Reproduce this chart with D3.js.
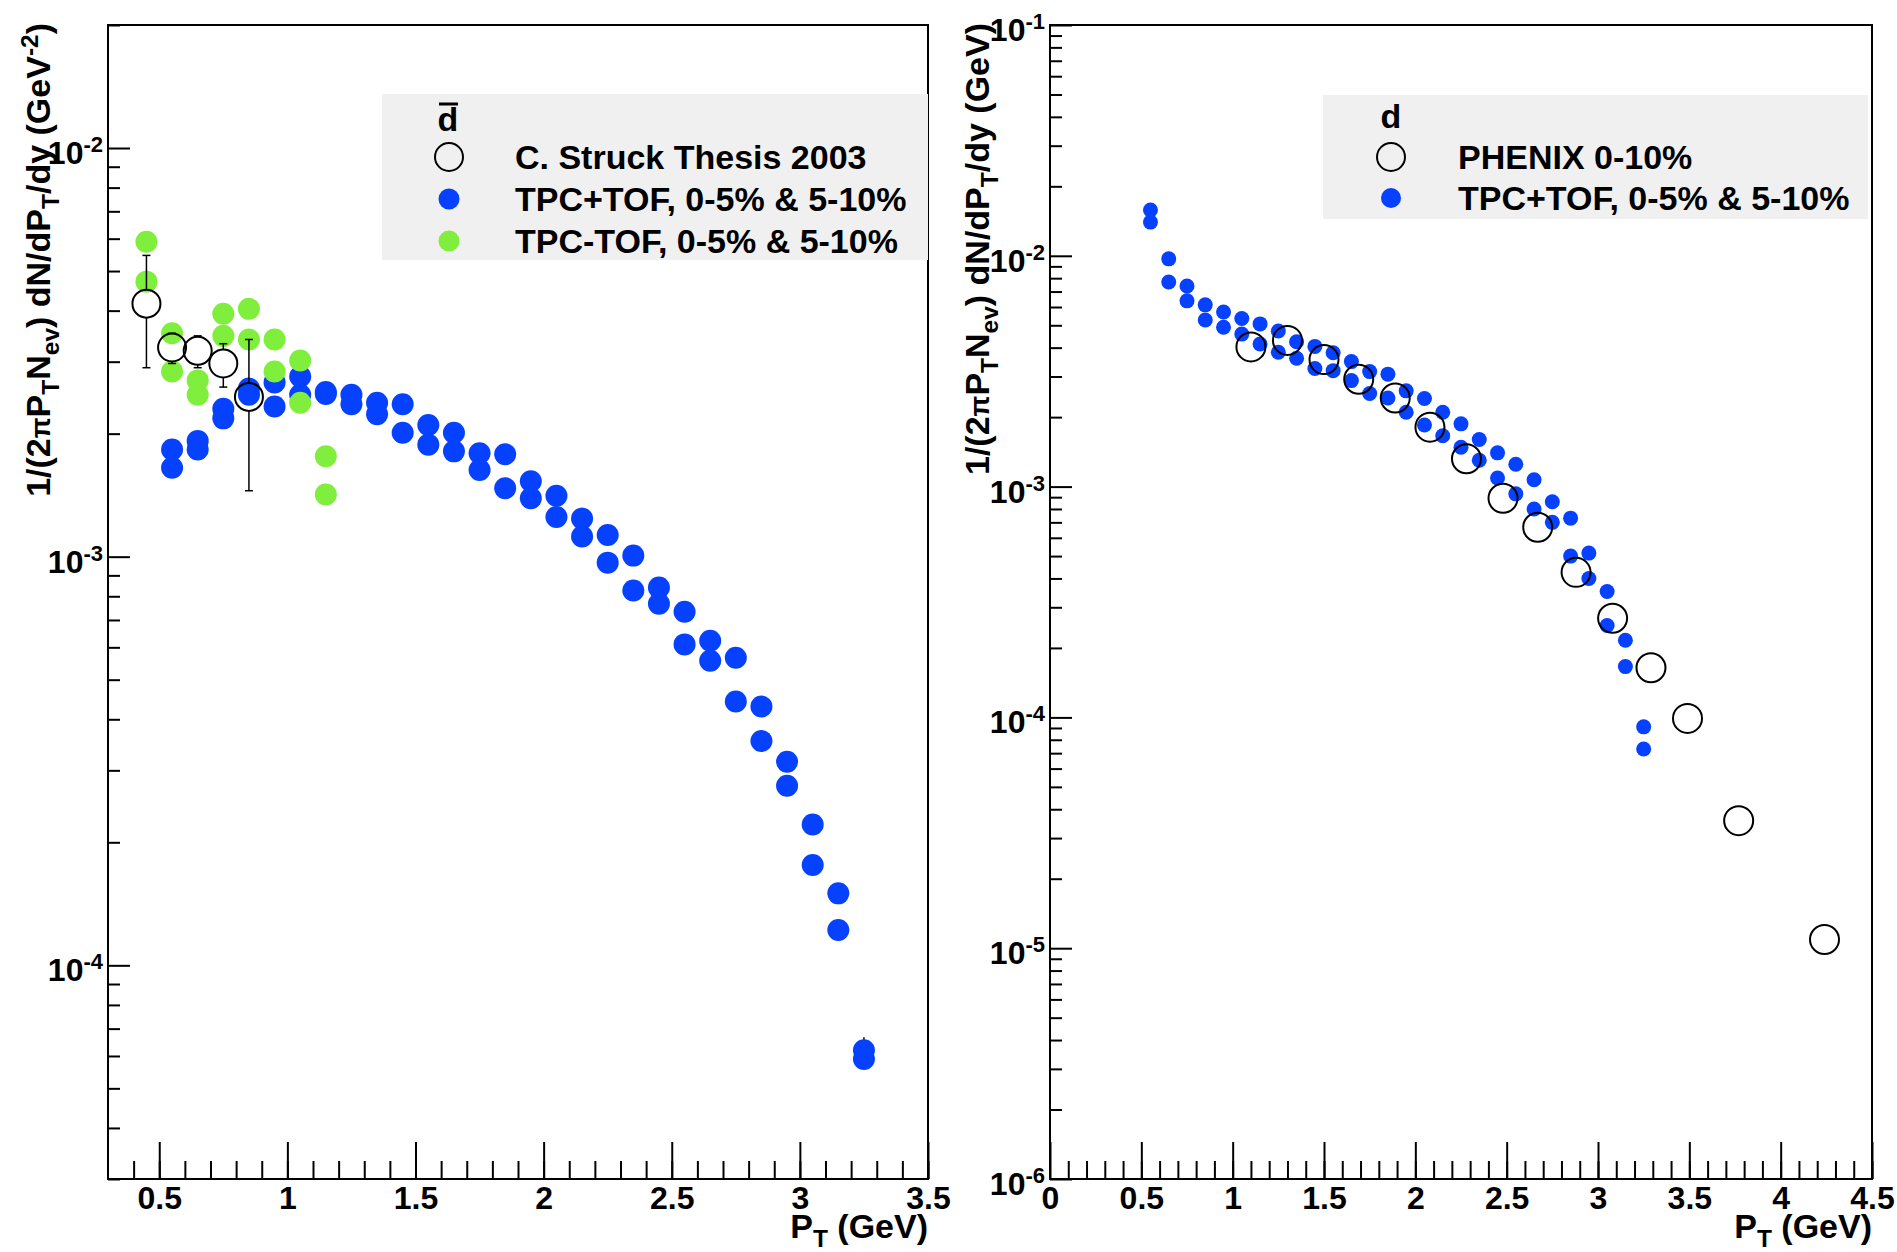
<!DOCTYPE html>
<html><head><meta charset="utf-8">
<script src="https://cdn.jsdelivr.net/npm/d3@7"></script>
<style>
body{margin:0;background:#fff}
svg{display:block}
text{font-family:"Liberation Sans",Arial,Helvetica,sans-serif;font-weight:bold;fill:#000}
</style>
</head><body>
<svg id="c" width="1897" height="1252"></svg>
<script>
// ---------------- DATA ----------------
// pT bin centres (GeV) used by the TPC+TOF points in both panels
const ptBins = [0.55,0.65,0.75,0.85,0.95,1.05,1.15,1.25,1.35,1.45,1.55,1.65,1.75,1.85,1.95,2.05,2.15,2.25,2.35,2.45,2.55,2.65,2.75,2.85,2.95,3.05,3.15,3.25];

// Left panel (anti-deuteron) TPC+TOF, two centralities
const dbarTpcTofA = [1.83e-3,1.92e-3,2.30e-3,2.58e-3,2.67e-3,2.76e-3,2.53e-3,2.49e-3,2.38e-3,2.36e-3,2.10e-3,2.01e-3,1.79e-3,1.78e-3,1.53e-3,1.41e-3,1.24e-3,1.13e-3,1.006e-3,0.84e-3,0.733e-3,0.623e-3,0.566e-3,0.430e-3,0.315e-3,0.221e-3,0.150e-3,0.062e-3];
const dbarTpcTofB = [1.65e-3,1.83e-3,2.18e-3,2.49e-3,2.33e-3,2.49e-3,2.50e-3,2.36e-3,2.23e-3,2.01e-3,1.88e-3,1.81e-3,1.63e-3,1.47e-3,1.39e-3,1.25e-3,1.12e-3,0.967e-3,0.826e-3,0.767e-3,0.61e-3,0.556e-3,0.442e-3,0.354e-3,0.275e-3,0.176e-3,0.122e-3,0.059e-3];
// error bar on the last TPC+TOF point (pT = 3.25)
const dbarLastErr = [5.64e-5, 6.67e-5];

// Left panel TPC-TOF
const dbarTpcPt = [0.45,0.55,0.65,0.75,0.85,0.95,1.05,1.15];
const dbarTpcA = [5.9e-3,3.52e-3,2.70e-3,3.93e-3,4.04e-3,3.40e-3,3.02e-3,1.76e-3];
const dbarTpcB = [4.71e-3,2.84e-3,2.49e-3,3.47e-3,3.40e-3,2.84e-3,2.38e-3,1.42e-3];

// Left panel C. Struck Thesis 2003
const struckPt = [0.45,0.55,0.65,0.75,0.85];
const struckY = [4.16e-3,3.25e-3,3.19e-3,2.97e-3,2.46e-3];
const struckLo = [2.9e-3,2.97e-3,2.9e-3,2.6e-3,1.45e-3];
const struckHi = [5.46e-3,3.52e-3,3.47e-3,3.32e-3,3.40e-3];

// Right panel (deuteron) TPC+TOF, two centralities
const dTpcTofA = [1.58e-2,0.97e-2,0.74e-2,0.613e-2,0.571e-2,0.535e-2,0.507e-2,0.472e-2,0.424e-2,0.405e-2,0.38e-2,0.348e-2,0.315e-2,0.307e-2,0.26e-2,0.241e-2,0.21e-2,0.187e-2,0.16e-2,0.14e-2,0.125e-2,0.107e-2,0.086e-2,0.073e-2,0.0515e-2,0.0351e-2,0.0216e-2,0.0091e-2];
const dTpcTofB = [1.40e-2,0.77e-2,0.638e-2,0.527e-2,0.49e-2,0.458e-2,0.415e-2,0.382e-2,0.36e-2,0.325e-2,0.318e-2,0.288e-2,0.253e-2,0.242e-2,0.21e-2,0.185e-2,0.166e-2,0.148e-2,0.13e-2,0.109e-2,0.093e-2,0.08e-2,0.07e-2,0.05e-2,0.04e-2,0.025e-2,0.0166e-2,0.0073e-2];

// Right panel PHENIX 0-10%
const phenixPt = [1.10,1.30,1.50,1.69,1.89,2.08,2.28,2.48,2.67,2.88,3.08,3.29,3.49,3.77,4.24];
const phenixY = [4.03e-3,4.3e-3,3.55e-3,2.92e-3,2.42e-3,1.81e-3,1.32e-3,0.89e-3,0.667e-3,0.425e-3,0.269e-3,1.64e-4,0.99e-4,3.57e-5,1.09e-5];

// Tick labels
const leftXTicks = [0.5,1,1.5,2,2.5,3,3.5];
const rightXTicks = [0,0.5,1,1.5,2,2.5,3,3.5,4,4.5];
const leftYExps = [-2,-3,-4];
const rightYExps = [-1,-2,-3,-4,-5,-6];

// Legend texts
const leftLegend = ["C. Struck Thesis 2003","TPC+TOF, 0-5% & 5-10%","TPC-TOF, 0-5% & 5-10%"];
const rightLegend = ["PHENIX 0-10%","TPC+TOF, 0-5% & 5-10%"];

// ---------------- DRAW ----------------
const BLUE = "#0541ff", GREEN = "#80ee3c";
const svg = d3.select("#c");

function richText(sel, parts, base){
  // parts: [text, kind] kind: n | sub | sup | pi
  let off = 0;
  parts.forEach(([t,k])=>{
    let target = 0, fs = base;
    if(k==="sub"){target = base*0.26; fs = base*0.72;}
    if(k==="sup"){target = -base*0.36; fs = base*0.72;}
    if(k==="pi"){fs = base*0.8;}
    sel.append("tspan").attr("dy", target-off).attr("font-size", fs).text(t);
    off = target;
  });
}

function panel(c){
  const x = d3.scaleLinear().domain(c.xDomain).range([c.left, c.right]);
  const y = d3.scaleLog().domain(c.yDomain).range([c.bottom, c.top]);
  const g = svg.append("g");

  // x minor ticks
  const xMinor = d3.range(Math.ceil(c.xDomain[0]*10+1e-9), Math.floor(c.xDomain[1]*10+1e-9)+1).map(i=>i/10);
  const gxm = g.append("g").attr("transform",`translate(0,${c.bottom})`)
    .call(d3.axisBottom(x).tickValues(xMinor).tickSize(-18).tickFormat(""));
  gxm.select(".domain").remove();
  gxm.selectAll("line").attr("stroke","#000").attr("stroke-width",2);
  const gx = g.append("g").attr("transform",`translate(0,${c.bottom})`)
    .call(d3.axisBottom(x).tickValues(c.xTicks).tickSize(-37).tickPadding(7).tickFormat(d3.format("")));
  gx.select(".domain").remove();
  gx.attr("font-size",null).attr("font-family",null);
  gx.selectAll("line").attr("stroke","#000").attr("stroke-width",2);
  gx.selectAll("text").attr("font-size",32).attr("fill","#000");

  // y ticks
  const yAll = y.ticks();
  const isMajor = v => Math.abs(Math.log10(v)-Math.round(Math.log10(v)))<1e-6;
  const gym = g.append("g").attr("transform",`translate(${c.left},0)`)
    .call(d3.axisLeft(y).tickValues(yAll.filter(v=>!isMajor(v))).tickSize(-12).tickFormat(""));
  gym.select(".domain").remove();
  gym.selectAll("line").attr("stroke","#000").attr("stroke-width",2);
  const majors = c.yExps.map(e=>Math.pow(10,e));
  const gy = g.append("g").attr("transform",`translate(${c.left},0)`)
    .call(d3.axisLeft(y).tickValues(majors).tickSize(-22).tickFormat(""));
  gy.select(".domain").remove();
  gy.selectAll("line").attr("stroke","#000").attr("stroke-width",2);
  c.yExps.forEach(e=>{
    const t = g.append("text").attr("x", c.left-5).attr("y", y(Math.pow(10,e))+16)
      .attr("text-anchor","end").attr("font-size",32);
    t.append("tspan").text("10");
    t.append("tspan").attr("dy",-12).attr("font-size",22).text(String(e));
  });

  // frame
  g.append("rect").attr("x",c.left).attr("y",c.top).attr("width",c.right-c.left).attr("height",c.bottom-c.top)
    .attr("fill","none").attr("stroke","#000").attr("stroke-width",2);

  // x title
  const xt = g.append("text").attr("x",c.right).attr("y",c.bottom+59).attr("text-anchor","end").attr("font-size",34);
  richText(xt, [["P","n"],["T","sub"],[" (GeV)","n"]], 34);

  // y title
  const yt = g.append("text").attr("transform",`translate(${c.ytX},${c.top-2}) rotate(-90)`)
    .attr("text-anchor","end").attr("font-size",34);
  richText(yt, c.yTitle, 34);

  return {x,y,g};
}

// ---------- LEFT PANEL ----------
const L = panel({left:108,right:928,top:25,bottom:1179,xDomain:[0.3,3.5],yDomain:[3e-5,0.02],
  xTicks:leftXTicks,yExps:leftYExps,ytX:50,
  yTitle:[["1/(2","n"],["π","pi"],["P","n"],["T","sub"],["N","n"],["ev","sub"],[") dN/dP","n"],["T","sub"],["/dy (GeV","n"],["-2","sup"],[")","n"]]});

// legend box
L.g.append("rect").attr("x",382).attr("y",94).attr("width",546).attr("height",166).attr("fill","#f0f0f0");
L.g.append("text").attr("x",448).attr("y",131).attr("text-anchor","middle").attr("font-size",34).text("d");
L.g.append("line").attr("x1",439).attr("x2",458).attr("y1",104).attr("y2",104).attr("stroke","#000").attr("stroke-width",3);
L.g.append("circle").attr("cx",449).attr("cy",157).attr("r",14).attr("fill","none").attr("stroke","#000").attr("stroke-width",2);
L.g.append("circle").attr("cx",449).attr("cy",199).attr("r",10.5).attr("fill",BLUE);
L.g.append("circle").attr("cx",449).attr("cy",241).attr("r",10.5).attr("fill",GREEN);
leftLegend.forEach((t,i)=>L.g.append("text").attr("x",515).attr("y",169+i*42).attr("font-size",34).text(t));

// last point error bar
L.g.append("line").attr("x1",L.x(3.25)).attr("x2",L.x(3.25)).attr("y1",L.y(dbarLastErr[0])).attr("y2",L.y(dbarLastErr[1]))
  .attr("stroke","#000").attr("stroke-width",1.5);
// TPC+TOF
[dbarTpcTofA, dbarTpcTofB].forEach(arr=>{
  L.g.append("g").selectAll("circle").data(arr).join("circle")
    .attr("cx",(d,i)=>L.x(ptBins[i])).attr("cy",d=>L.y(d)).attr("r",11).attr("fill",BLUE);
});
// TPC-TOF
[dbarTpcA, dbarTpcB].forEach(arr=>{
  L.g.append("g").selectAll("circle").data(arr).join("circle")
    .attr("cx",(d,i)=>L.x(dbarTpcPt[i])).attr("cy",d=>L.y(d)).attr("r",11).attr("fill",GREEN);
});
// Struck with error bars
const R0 = 14;
struckPt.forEach((p,i)=>{
  const cx = L.x(p), cy = L.y(struckY[i]), yh = L.y(struckHi[i]), yl = L.y(struckLo[i]);
  const eg = L.g.append("g").attr("stroke","#000").attr("stroke-width",1.5);
  if(cy-R0>yh){ eg.append("line").attr("x1",cx).attr("x2",cx).attr("y1",yh).attr("y2",cy-R0); }
  if(yl>cy+R0){ eg.append("line").attr("x1",cx).attr("x2",cx).attr("y1",cy+R0).attr("y2",yl); }
  eg.append("line").attr("x1",cx-4).attr("x2",cx+4).attr("y1",yh).attr("y2",yh);
  eg.append("line").attr("x1",cx-4).attr("x2",cx+4).attr("y1",yl).attr("y2",yl);
  L.g.append("circle").attr("cx",cx).attr("cy",cy).attr("r",R0).attr("fill","none").attr("stroke","#000").attr("stroke-width",2);
});

// ---------- RIGHT PANEL ----------
const R = panel({left:1050,right:1872,top:25,bottom:1179,xDomain:[0,4.5],yDomain:[1e-6,0.1],
  xTicks:rightXTicks,yExps:rightYExps,ytX:989,
  yTitle:[["1/(2","n"],["π","pi"],["P","n"],["T","sub"],["N","n"],["ev","sub"],[") dN/dP","n"],["T","sub"],["/dy (GeV)","n"]]});

R.g.append("rect").attr("x",1323).attr("y",95).attr("width",545).attr("height",124).attr("fill","#f0f0f0");
R.g.append("text").attr("x",1391).attr("y",128).attr("text-anchor","middle").attr("font-size",34).text("d");
R.g.append("circle").attr("cx",1391).attr("cy",157).attr("r",14).attr("fill","none").attr("stroke","#000").attr("stroke-width",2);
R.g.append("circle").attr("cx",1391).attr("cy",198).attr("r",10).attr("fill",BLUE);
rightLegend.forEach((t,i)=>R.g.append("text").attr("x",1458).attr("y",169+i*41).attr("font-size",34).text(t));

[dTpcTofA, dTpcTofB].forEach(arr=>{
  R.g.append("g").selectAll("circle").data(arr).join("circle")
    .attr("cx",(d,i)=>R.x(ptBins[i])).attr("cy",d=>R.y(d)).attr("r",7.5).attr("fill",BLUE);
});
R.g.append("g").selectAll("circle").data(phenixY).join("circle")
  .attr("cx",(d,i)=>R.x(phenixPt[i])).attr("cy",d=>R.y(d)).attr("r",14.5)
  .attr("fill","none").attr("stroke","#000").attr("stroke-width",2);
</script>
</body></html>
